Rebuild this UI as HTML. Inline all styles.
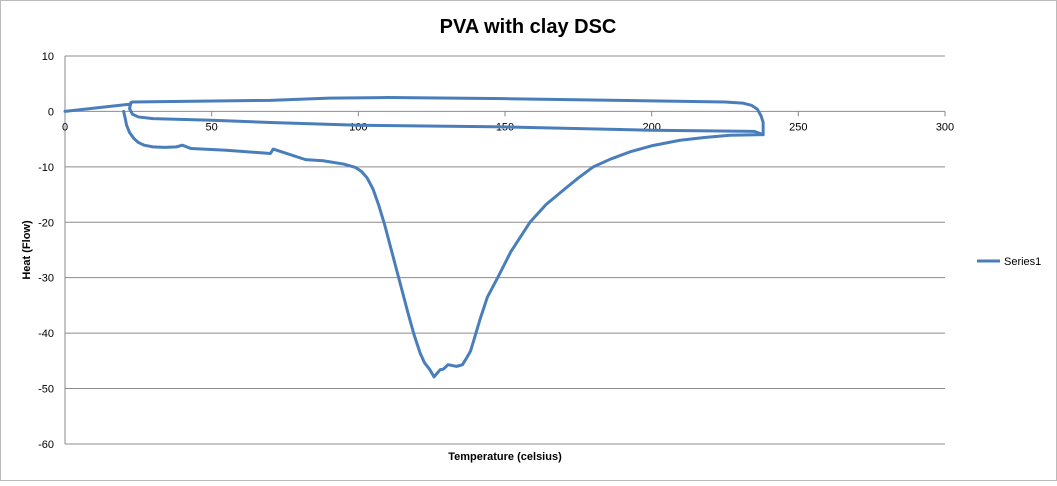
<!DOCTYPE html>
<html><head><meta charset="utf-8"><style>
body{margin:0;background:#fff;font-family:"Liberation Sans",sans-serif}
svg text{font-family:"Liberation Sans",sans-serif}
</style></head><body>
<svg width="1057" height="481">
<rect x="0.5" y="0.5" width="1056" height="480" fill="#fff" stroke="#bbb"/>
<text x="528" y="33" text-anchor="middle" font-size="20" font-weight="bold">PVA with clay DSC</text>
<g id="grid"></g><g id="axes"></g><g id="series"></g>
<text x="505" y="460" text-anchor="middle" font-size="11" font-weight="bold">Temperature (celsius)</text>
<text transform="translate(30,250) rotate(-90)" text-anchor="middle" font-size="11" font-weight="bold">Heat (Flow)</text>
<g><line x1="977" y1="261" x2="1000" y2="261" stroke="#4a7ebb" stroke-width="3"/><text x="1004" y="265" font-size="11">Series1</text></g>
</svg>
<script>
const xTicks=[0,50,100,150,200,250,300];
const yTicks=[10,0,-10,-20,-30,-40,-50,-60];
const seg1X=[0,22,23,40,70,90,110,150,200,225,231,234,236,237.3,238,238,238,235,200,150,100,70,50,30,25,23,22,22.5];
const seg1Y=[0,1.3,1.7,1.8,2.0,2.4,2.5,2.3,1.9,1.7,1.5,1.1,0.4,-0.8,-2,-3.6,-4.2,-3.6,-3.4,-2.8,-2.5,-2.0,-1.6,-1.3,-1.0,-0.5,0.5,1.6];
const seg2X=[20,20.5,21,22,23.5,25,27,30,34,38,40,43,55,65,70,71,75,82,88,95,99,101,103,105,107,109,111,113,115,117,119,121,122.5,124.4,125.8,127.9,129,130.6,133.5,135.5,136.9,138.2,139.2,140.2,141.5,144,147.7,152,158.5,164,169.9,175,180.1,186,192.6,200,209.7,218,226.7,238];
const seg2Y=[0,-1.2,-2.5,-3.8,-4.9,-5.6,-6.1,-6.4,-6.5,-6.4,-6.1,-6.7,-7,-7.4,-7.6,-6.8,-7.5,-8.7,-8.9,-9.5,-10.1,-10.8,-12,-14,-17,-20.5,-24.5,-28.5,-32.5,-36.5,-40.3,-43.5,-45.3,-46.6,-47.9,-46.6,-46.5,-45.7,-46,-45.7,-44.5,-43.3,-41.6,-39.8,-37.5,-33.5,-29.8,-25.3,-20,-16.8,-14.2,-12,-10,-8.6,-7.3,-6.2,-5.2,-4.7,-4.3,-4.2];
const sx=v=>65+v*(880/300), sy=v=>111.4-v*(388/70);
const NS="http://www.w3.org/2000/svg";
const g=document.getElementById('grid'),a=document.getElementById('axes'),s=document.getElementById('series');
function mk(tag,at,par){const e=document.createElementNS(NS,tag);for(const k in at)e.setAttribute(k,at[k]);par.appendChild(e);return e;}
yTicks.forEach(t=>{
 const l=mk('line',{x1:65,x2:945,y1:sy(t),y2:sy(t),stroke:'#8c8c8c','stroke-width':1},g);
 
 
 const tx=mk('text',{x:54,y:sy(t)+4,'text-anchor':'end','font-size':11},a);tx.textContent=t;
 
 
});
mk('line',{x1:65,x2:65,y1:sy(10),y2:sy(-60),stroke:'#888'},a);
xTicks.forEach(t=>{
 mk('line',{x1:sx(t),x2:sx(t),y1:sy(0),y2:sy(0)+5,stroke:'#888'},a);
 const tx=mk('text',{x:sx(t),y:sy(0)+19,'text-anchor':'middle','font-size':11},a);tx.textContent=t;
 
 
});
[[seg1X,seg1Y],[seg2X,seg2Y]].forEach(([X,Y])=>{
 const p=mk('polyline',{points:X.map((x,i)=>sx(x)+','+sy(Y[i])).join(' '),fill:'none',stroke:'#4a7ebb','stroke-width':3,'stroke-linejoin':'round','stroke-linecap':'round'},s);
 
 
});
</script>
</body></html>
